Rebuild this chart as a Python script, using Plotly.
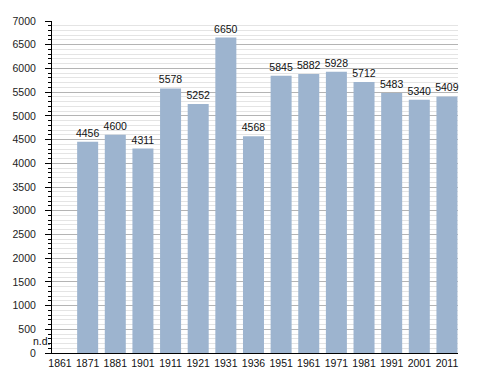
import plotly.graph_objects as go

years = ["1861", "1871", "1881", "1901", "1911", "1921", "1931", "1936",
         "1951", "1961", "1971", "1981", "1991", "2001", "2011"]
population = [None, 4456, 4600, 4311, 5578, 5252, 6650, 4568,
              5845, 5882, 5928, 5712, 5483, 5340, 5409]
labels = ["" if v is None else str(v) for v in population]
y_ticks = list(range(0, 7001, 500))

FONT = "Liberation Sans, Arial, sans-serif"

fig = go.Figure()
fig.add_trace(go.Bar(
    x=years,
    y=population,
    text=labels,
    textposition="outside",
    constraintext="none",
    textfont=dict(family=FONT, size=10.5, color="#111"),
    marker=dict(color="#9db4cf", line=dict(width=0)),
    width=0.76,
    cliponaxis=False,
    hoverinfo="x+y",
))

fig.add_annotation(
    x=0, xref="paper", xanchor="right", xshift=1,
    y=250, yref="y", yanchor="middle",
    text="n.d.", showarrow=False,
    font=dict(family=FONT, size=10.5, color="#111"),
)

fig.update_layout(
    width=488, height=373,
    margin=dict(l=52, r=30, t=21, b=20, autoexpand=False),
    paper_bgcolor="white",
    plot_bgcolor="white",
    showlegend=False,
    font=dict(family=FONT, size=10.5, color="#111"),
    bargap=0.24,
)
fig.update_xaxes(
    type="category",
    range=[-0.29, 14.4],
    automargin=False,
    showgrid=False,
    showline=True, linecolor="#000", linewidth=1,
    ticks="", tickfont=dict(family=FONT, size=10.5, color="#111"),
    fixedrange=True,
)
fig.update_yaxes(
    range=[0, 7000],
    automargin=False,
    tickvals=y_ticks,
    showgrid=True, gridcolor="#b4b4b4", gridwidth=1,
    showline=True, linecolor="#000", linewidth=1,
    ticks="outside", ticklen=6, tickcolor="#000",
    ticklabelstandoff=7,
    tickfont=dict(family=FONT, size=10.5, color="#222"),
    minor=dict(dtick=100, showgrid=True, gridcolor="#e4e4e4", gridwidth=1,
               ticks="outside", ticklen=3, tickcolor="#000"),
    zeroline=False,
    fixedrange=True,
)

fig.write_html(
    "out.html",
    config={"displayModeBar": False},
    post_script="document.body.style.margin='0';document.body.style.padding='0';",
)
